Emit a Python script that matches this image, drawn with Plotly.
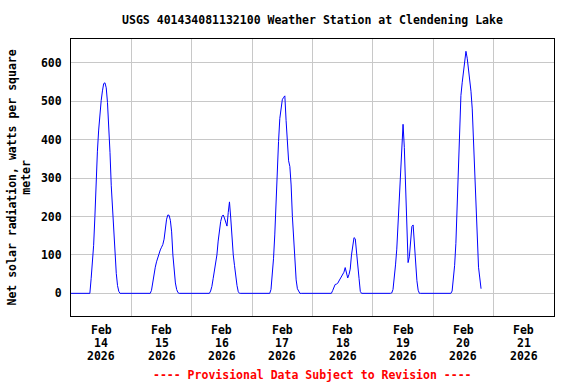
import plotly.graph_objects as go
import pandas as pd

# ---------------- data ----------------
title_text = "USGS 401434081132100 Weather Station at Clendening Lake"
y_title = "Net solar radiation, watts per square<br>meter"
footer_text = "---- Provisional Data Subject to Revision ----"

series_start = "2026-02-14 00:00"
days = ["2026-02-14", "2026-02-15", "2026-02-16", "2026-02-17",
        "2026-02-18", "2026-02-19", "2026-02-20"]
# hour of day for each reading
hours = [7.0, 7.5, 8.0, 8.5, 9.0, 9.5, 10.0, 10.5, 11.0, 11.5, 12.0, 12.5, 13.0,
         13.5, 14.0, 14.5, 15.0, 15.5, 16.0, 16.5, 17.0, 17.5, 18.0, 18.5, 19.0, 19.5]

feb14 = [0, 0, 38, 72, 125, 200, 295, 370, 425, 478, 502, 527, 546,
         548, 535, 497, 440, 367, 280, 216, 158, 107, 52, 20, 5, 0]
feb15 = [0, 0, 8, 31, 49, 68, 82, 94, 106, 113, 120, 127, 141,
         169, 193, 204, 203, 190, 160, 100, 55, 27, 10, 2, 0, 0]
feb16 = [0, 6, 18, 38, 60, 79, 100, 136, 165, 187, 200, 204, 196,
         186, 175, 210, 238, 196, 135, 100, 72, 41, 20, 4, 0, 0]
feb17 = [0, 10, 45, 90, 152, 242, 330, 395, 455, 488, 504, 510, 514,
         450, 385, 345, 330, 282, 200, 142, 87, 35, 12, 5, 0, 0]
feb18 = [0, 0, 7, 17, 23, 24, 26, 32, 38, 43, 48, 55, 67,
         51, 40, 49, 63, 100, 128, 145, 142, 113, 80, 39, 5, 0]
feb19 = [0, 1, 10, 36, 74, 115, 182, 248, 309, 380, 440, 380, 292,
         200, 80, 95, 150, 174, 178, 128, 74, 33, 8, 0, 0, 0]
feb20 = [0, 6, 32, 73, 130, 240, 357, 452, 515, 548, 580, 608, 630,
         612, 585, 558, 526, 480, 400, 300, 195, 115, 68, 40, 12]

daily_values = [feb14, feb15, feb16, feb17, feb18, feb19, feb20]

tick_dates = ["2026-02-14 12:00", "2026-02-15 12:00", "2026-02-16 12:00",
              "2026-02-17 12:00", "2026-02-18 12:00", "2026-02-19 12:00",
              "2026-02-20 12:00", "2026-02-21 12:00"]
tick_text = ["Feb<br>14<br>2026", "Feb<br>15<br>2026", "Feb<br>16<br>2026",
             "Feb<br>17<br>2026", "Feb<br>18<br>2026", "Feb<br>19<br>2026",
             "Feb<br>20<br>2026", "Feb<br>21<br>2026"]
grid_dates = ["2026-02-15", "2026-02-16", "2026-02-17", "2026-02-18",
              "2026-02-19", "2026-02-20", "2026-02-21"]
x_range = ["2026-02-14 00:00", "2026-02-22 00:00"]
y_ticks = [0, 100, 200, 300, 400, 500, 600]

# ---------------- build series ----------------
xs = [pd.Timestamp(series_start)]
ys = [0]
for day, vals in zip(days, daily_values):
    base = pd.Timestamp(day)
    for h, v in zip(hours, vals):
        xs.append(base + pd.Timedelta(hours=h))
        ys.append(v)

FONT = "DejaVu Sans Mono"
TXT = dict(family=FONT, size=11.5, color="black", weight="bold")

PLOT_H = 384 - 39 - 68  # plot area height in px

fig = go.Figure()
fig.add_trace(go.Scatter(x=xs, y=ys, mode="lines",
                         line=dict(color="#0000FF", width=1),
                         showlegend=False, hoverinfo="skip"))

annotations = [
    dict(text=y_title, xref="paper", yref="paper",
         x=-(71 - 19) / 483, y=0.5, xanchor="center", yanchor="middle",
         textangle=-90, showarrow=False, font=TXT),
    dict(text=footer_text, xref="paper", yref="paper",
         x=0.5, y=-(375 - 316) / PLOT_H, xanchor="center", yanchor="middle",
         showarrow=False, font=dict(family=FONT, size=11.5, color="#FF0000", weight="bold")),
]
# date tick labels (three rows, 13 px apart, like the original)
row_centers = [330, 343, 356]
for tv, tt in zip(tick_dates, tick_text):
    for row, part in zip(row_centers, tt.split("<br>")):
        annotations.append(dict(text=part, xref="x", yref="paper", x=tv,
                                y=-(row - 316) / PLOT_H, xanchor="center",
                                yanchor="middle", showarrow=False, font=TXT))

fig.update_layout(
    width=576, height=384,
    margin=dict(l=71, r=22, t=39, b=68, autoexpand=False),
    paper_bgcolor="white", plot_bgcolor="white",
    showlegend=False,
    title=dict(text=title_text, x=(71 + 483 / 2) / 576, xanchor="center",
               y=1 - 20 / 384, yanchor="middle", font=TXT),
    xaxis=dict(
        type="date", range=x_range,
        tickmode="array", tickvals=tick_dates, ticktext=tick_text,
        showticklabels=False,
        showgrid=False, zeroline=False, ticks="",
        showline=True, mirror=True, linecolor="black", linewidth=1,
        minor=dict(tickmode="array", tickvals=grid_dates, showgrid=True,
                   gridcolor="#C8C8C8", gridwidth=1, ticks=""),
    ),
    yaxis=dict(
        range=[-59, 662],
        tickmode="array", tickvals=y_ticks,
        showgrid=True, gridcolor="#C8C8C8", gridwidth=1, zeroline=False,
        ticks="outside", ticklen=6, tickcolor="rgba(0,0,0,0)",
        tickfont=TXT,
        showline=True, mirror=True, linecolor="black", linewidth=1,
    ),
    annotations=annotations,
)

fig.write_html("out.html",
               config={"displayModeBar": False, "staticPlot": True},
               post_script="document.body.style.margin='0';document.body.style.padding='0';")
